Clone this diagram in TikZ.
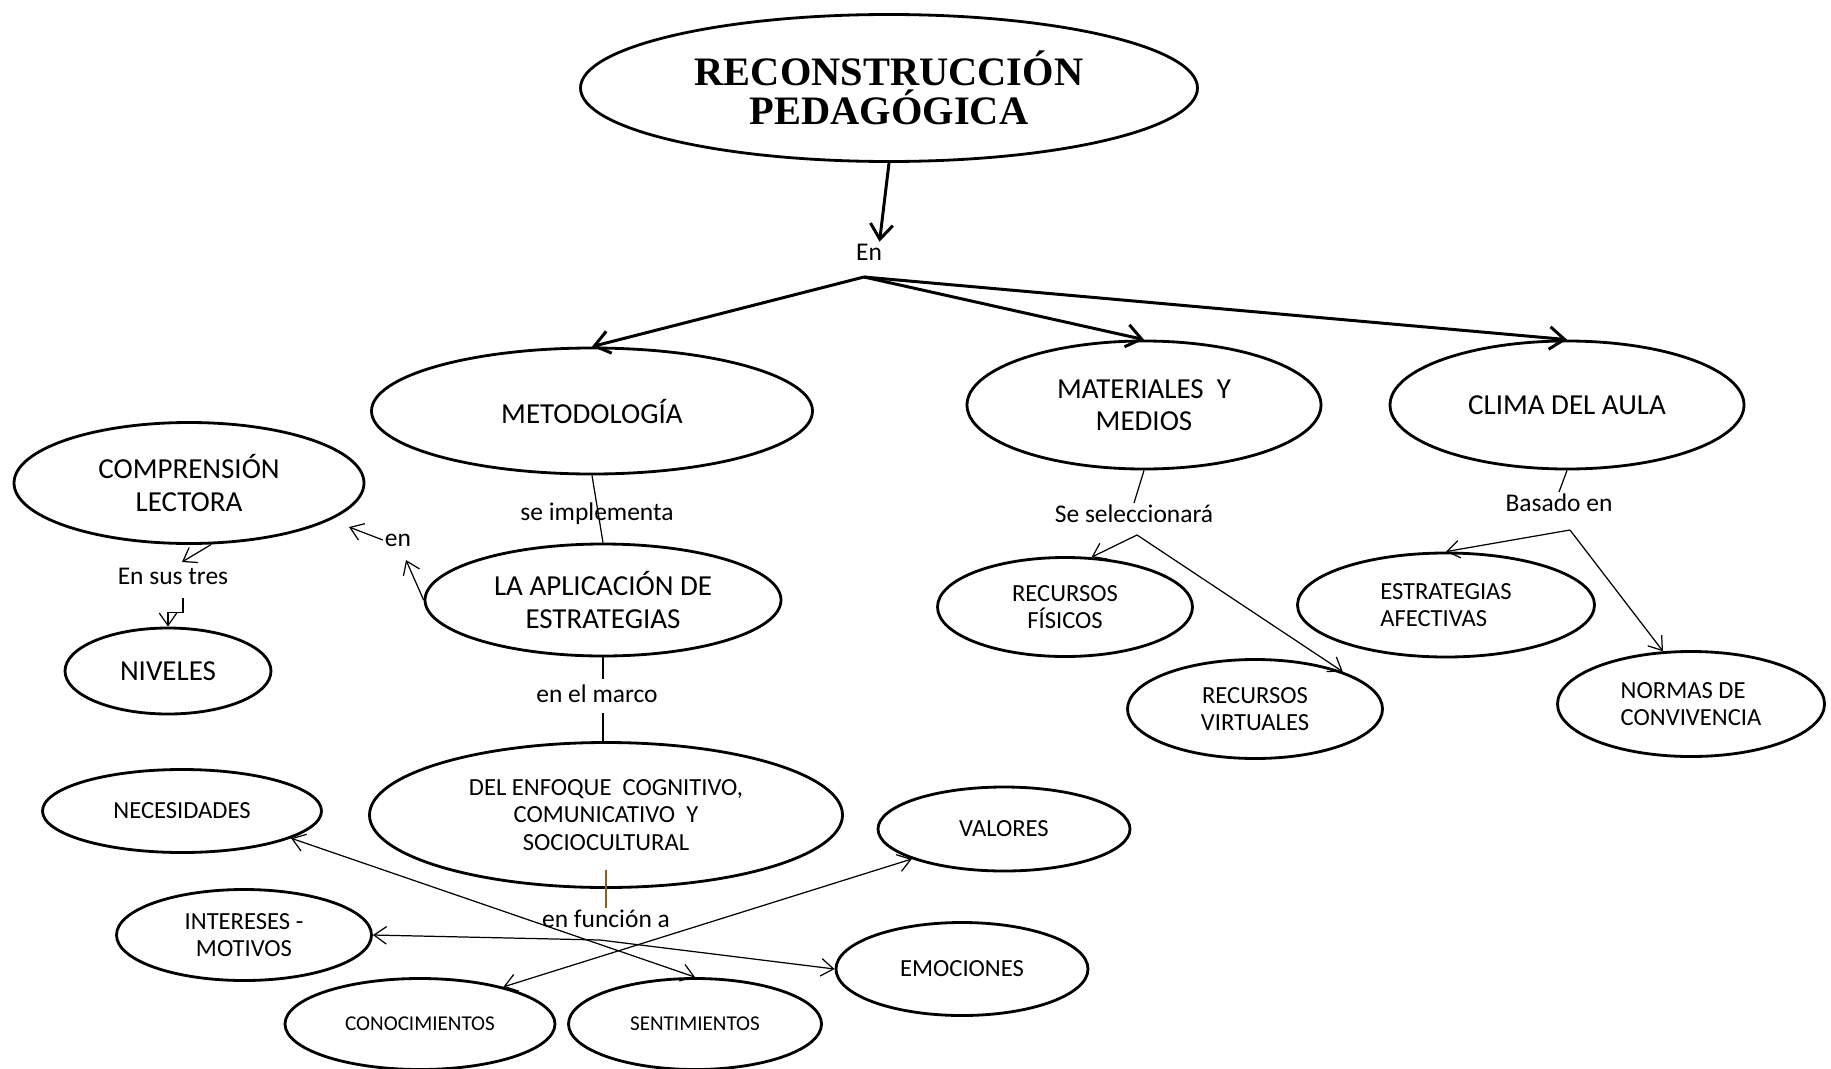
\documentclass[tikz,border=0pt]{standalone}
\usepackage{fontspec}
\setmainfont{Carlito}
\newfontfamily\titlefont{Liberation Serif}
\usetikzlibrary{arrows.meta, shapes.geometric, calc}
\definecolor{marron}{RGB}{135,100,30}

\begin{document}
\begin{tikzpicture}[x=0.02cm, y=-0.02cm,
    elipse/.style={ellipse, draw, line width=1.6pt, inner sep=0pt, align=center},
    tam/.style 2 args={minimum width=#1*0.02cm, minimum height=#2*0.02cm},
    grande/.style={font=\fontsize{16.5}{18.5}\selectfont},
    media/.style={font=\fontsize{14}{15.5}\selectfont},
    chica/.style={font=\fontsize{12}{14}\selectfont},
    etiqueta/.style={font=\fontsize{14.5}{16}\selectfont, inner sep=1pt},
    gruesa/.style={line width=1.7pt, -{Straight Barb[length=3mm, width=4.5mm]}},
    flecha/.style={line width=0.7pt, -{Straight Barb[length=2.5mm, width=3.5mm]}},
    doble/.style={line width=0.7pt, {Straight Barb[length=2.5mm, width=3.5mm]}-{Straight Barb[length=2.5mm, width=3.5mm]}},
    linea/.style={line width=0.7pt}]

    \useasboundingbox (0,0) rectangle (1831,1068);

    % nodos
    \node[elipse, tam={617}{147}, font=\titlefont\bfseries\fontsize{23}{22.5}\selectfont] (titulo) at (889,88) {RECONSTRUCCIÓN\\PEDAGÓGICA};
    \node[etiqueta] (en) at (869,252) {En};
    \coordinate (rama) at (864,277);

    \node[elipse, grande, tam={441}{126}] (metodo) at (592,411) {METODOLOGÍA};
    \node[elipse, grande, tam={354}{128}] (materiales) at (1144,405) {MATERIALES\ \ Y\\MEDIOS};
    \node[elipse, grande, tam={354}{128}] (clima) at (1567,405) {CLIMA DEL AULA};

    \node[elipse, grande, tam={350}{121}] (comprension) at (189,483) {COMPRENSIÓN\\LECTORA};
    \node[elipse, grande, tam={206}{86}] (niveles) at (168,671) {NIVELES};
    \node[elipse, grande, tam={356}{112}] (aplicacion) at (603,600) {LA APLICACIÓN DE\\ESTRATEGIAS};
    \node[elipse, media, tam={473}{145}] (enfoque) at (606,815) {DEL ENFOQUE\ \ COGNITIVO,\\COMUNICATIVO\ \ Y\\SOCIOCULTURAL};

    \node[elipse, media, tam={279}{83}] (necesidades) at (182,811) {NECESIDADES};
    \node[elipse, media, tam={252}{84}] (valores) at (1004,829) {VALORES};
    \node[elipse, media, tam={255}{91}] (intereses) at (244,935) {INTERESES -\\MOTIVOS};
    \node[elipse, media, tam={252}{93}] (emociones) at (962,969) {EMOCIONES};
    \node[elipse, chica, tam={270}{91}] (conocimientos) at (420,1024) {CONOCIMIENTOS};
    \node[elipse, chica, tam={253}{91}] (sentimientos) at (695,1024) {SENTIMIENTOS};

    \node[elipse, media, tam={255}{99}] (fisicos) at (1065,607) {RECURSOS\\FÍSICOS};
    \node[elipse, media, tam={255}{99}] (virtuales) at (1255,709) {RECURSOS\\VIRTUALES};
    \node[elipse, media, tam={297}{104}, align=left] (afectivas) at (1446,605) {ESTRATEGIAS\\AFECTIVAS};
    \node[elipse, media, tam={267}{105}, align=left] (normas) at (1691,704) {NORMAS DE\\CONVIVENCIA};

    % etiquetas
    \node[etiqueta] (implementa) at (597,514) {se implementa};
    \node[etiqueta] (enLectura) at (398,540) {en};
    \node[etiqueta] (tres) at (173,576) {En sus tres};
    \node[etiqueta] (marco) at (597,694) {en el marco};
    \node[etiqueta] (funcion) at (606,919) {en función a};
    \node[etiqueta] (selec) at (1134,514) {Se seleccionará};
    \node[etiqueta] (basado) at (1559,503) {Basado en};

    \coordinate (tipComp) at (349,527);
    \coordinate (tipEn) at (406,560);
    \coordinate (tipTres) at (182,562);
    \coordinate (cruce) at (600,940);
    \coordinate (selecBase) at (1137,535);
    \coordinate (basadoBase) at (1570,530);

    % conectores
    \draw[gruesa] (titulo.south) -- ([xshift=6pt]en.north);
    \foreach \destino in {metodo, materiales, clima}
        \draw[gruesa] (rama) -- (\destino.north);

    \draw[linea] (metodo.south) -- (aplicacion.north);
    \draw[flecha] (aplicacion.west) -- (tipEn);
    \draw[flecha] (enLectura.west) -- (tipComp);
    \draw[flecha] (comprension.-70) -- (tipTres);
    \draw[flecha] (tres.south) ++(10,12) -- ++(0,14) -| (niveles.north);

    \draw[linea] (aplicacion.south) -- ++(0,22);
    \draw[linea] (aplicacion.south |- marco.south) ++(0,8) -- (enfoque.north -| aplicacion.south);
    \draw[linea, marron] (enfoque.center) ++(0,55) -- (funcion.north);

    \draw[doble] (necesidades.-14) -- (sentimientos.north);
    \draw[doble] (intereses.east) -- (cruce) -- (emociones.west);
    \draw[doble] (valores.-162) -- (conocimientos.24);

    \draw[linea] (materiales.south) -- (selec.north);
    \draw[flecha] (selecBase) -- (fisicos.62);
    \draw[flecha] (selecBase) -- (virtuales.23);

    \draw[linea] (clima.south) -- (basado.north);
    \draw[flecha] (basadoBase) -- (afectivas.north);
    \draw[flecha] (basadoBase) -- (normas.118);
\end{tikzpicture}
\end{document}
